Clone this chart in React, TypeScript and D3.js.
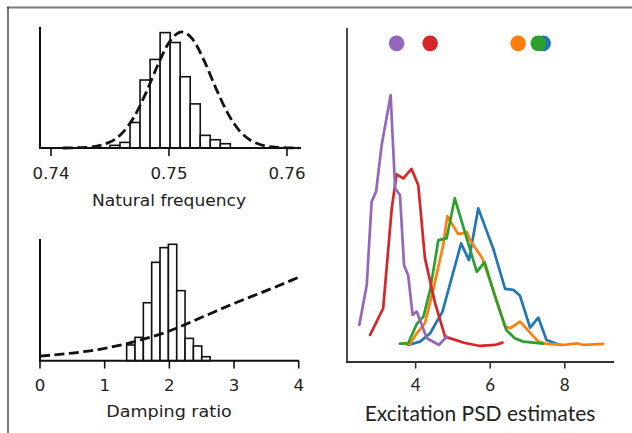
import React from "react";
import * as d3 from "d3";

// ---------- Natural frequency panel ----------
const nfTicks = [0.74, 0.75, 0.76];
const nfTickLabels = ["0.74", "0.75", "0.76"];
const nfBinStart = 0.745;
const nfBinWidth = 0.00085;
const nfCounts = [2.4, 5.1, 23.2, 61.8, 80.5, 104.9, 95.9, 64.8, 40.1, 11.5, 7.5, 3.9];
const nfPriorX = [0.741, 0.743, 0.745, 0.746, 0.747, 0.748, 0.749, 0.75, 0.7511, 0.752, 0.753, 0.754, 0.755, 0.756, 0.757, 0.759, 0.761];
const nfPriorY = [0.0, 0.6, 5.4, 13.2, 27.5, 48.9, 74.1, 95.8, 105.5, 98.9, 79.0, 53.8, 31.2, 15.4, 6.5, 0.7, 0.0];

// ---------- Damping ratio panel ----------
const drTicks = [0, 1, 2, 3, 4];
const drTickLabels = ["0", "1", "2", "3", "4"];
const drBinStart = 1.34;
const drBinWidth = 0.129;
const drCounts = [14.2, 21.1, 52.4, 88.9, 102.2, 105.2, 63.3, 20.2, 13.3, 3.6];
const drPriorX = [0, 0.5, 1, 1.5, 2, 2.5, 3, 3.5, 4];
const drPriorY = [4.2, 6.9, 11.2, 17.8, 26.8, 39.2, 51.8, 63.3, 75.4];

// ---------- Excitation PSD panel ----------
const psdTicks = [4, 6, 8];
const psdBlueX = [3.8, 4.12, 4.39, 4.72, 5.22, 5.43, 5.68, 6.08, 6.4, 6.62, 6.8, 7.07, 7.29, 7.51, 7.87];
const psdBlueY = [0.051, 0.061, 0.086, 0.151, 0.355, 0.305, 0.46, 0.34, 0.219, 0.216, 0.198, 0.103, 0.133, 0.066, 0.051];
const psdOrangeX = [3.67, 3.85, 4.03, 4.25, 4.47, 4.74, 4.85, 5.14, 5.38, 5.46, 5.79, 6.08, 6.4, 6.53, 6.8, 7.29, 7.51, 7.96, 8.32, 8.5, 9.03];
const psdOrangeY = [0.056, 0.054, 0.086, 0.116, 0.216, 0.35, 0.437, 0.383, 0.388, 0.365, 0.31, 0.216, 0.106, 0.101, 0.121, 0.061, 0.054, 0.051, 0.056, 0.051, 0.054];
const psdGreenX = [3.58, 3.8, 4.03, 4.21, 4.39, 4.61, 4.83, 5.05, 5.64, 5.85, 6.13, 6.43, 6.66, 6.89, 7.42];
const psdGreenY = [0.055, 0.056, 0.114, 0.136, 0.216, 0.365, 0.37, 0.49, 0.27, 0.299, 0.196, 0.096, 0.071, 0.061, 0.055];
const psdRedX = [2.78, 3.13, 3.36, 3.49, 3.67, 3.89, 4.07, 4.25, 4.52, 4.79, 5.32, 5.73, 6.13, 6.33];
const psdRedY = [0.081, 0.161, 0.46, 0.562, 0.55, 0.578, 0.53, 0.311, 0.177, 0.076, 0.057, 0.048, 0.051, 0.058];
const psdPurpleX = [2.49, 2.69, 2.82, 2.94, 3.09, 3.33, 3.45, 3.58, 3.69, 3.8, 3.92, 4.03, 4.3, 4.63, 4.83];
const psdPurpleY = [0.111, 0.231, 0.48, 0.51, 0.65, 0.799, 0.52, 0.5, 0.29, 0.26, 0.141, 0.151, 0.071, 0.051, 0.076];
const psdMeans = [7.42, 6.75, 7.29, 4.39, 3.49];
const psdMeanLevel = 0.954;
const psdColors = ["#1f77b4", "#ff7f0e", "#2ca02c", "#d62728", "#9467bd"];

const leftFont = "'DejaVu Sans', sans-serif";
const rightFont = "Lato, 'Open Sans', sans-serif";

function Label(props: { x: number; y: number; text: string; size: number; sx?: number; font: string }) {
  const { x, y, text, size, sx = 1, font } = props;
  return (
    <text
      transform={`translate(${x},${y}) scale(${sx},1)`}
      textAnchor="middle"
      fontFamily={font}
      fontSize={size}
      fill="#222"
    >
      {text}
    </text>
  );
}

function zip(xs: number[], ys: number[]): [number, number][] {
  return xs.map((x, i) => [x, ys[i]]);
}

export default function App() {
  const xNF = d3.scaleLinear().domain([0.73907, 0.76119]).range([40, 301]);
  const yNF = d3.scaleLinear().domain([0, 110]).range([148, 27]);
  const xDR = d3.scaleLinear().domain([0, 4]).range([40, 298.7]);
  const yDR = d3.scaleLinear().domain([0, 110]).range([360.7, 239]);
  const xPSD = d3.scaleLinear().domain([2.16, 9.32]).range([347, 614]);
  const yPSD = d3.scaleLinear().domain([0, 1]).range([362, 28]);

  const nfLine = d3
    .line<[number, number]>()
    .x((d) => xNF(d[0]))
    .y((d) => yNF(d[1]))
    .curve(d3.curveMonotoneX);
  const drLine = d3
    .line<[number, number]>()
    .x((d) => xDR(d[0]))
    .y((d) => yDR(d[1]))
    .curve(d3.curveMonotoneX);
  const psdLine = d3
    .line<[number, number]>()
    .x((d) => xPSD(d[0]))
    .y((d) => yPSD(d[1]));

  const psdSeries = [
    zip(psdBlueX, psdBlueY),
    zip(psdOrangeX, psdOrangeY),
    zip(psdGreenX, psdGreenY),
    zip(psdRedX, psdRedY),
    zip(psdPurpleX, psdPurpleY),
  ];

  const sxLeft = 1.08;
  const leftSize = 15.4;

  return (
    <svg
      width={632}
      height={433}
      style={{ position: "absolute", left: 0, top: 0, background: "#fff" }}
    >
      <rect x={0} y={0} width={632} height={433} fill="#fff" />
      {/* frame */}
      <line x1={7} y1={7.5} x2={632} y2={7.5} stroke="#7a7a7a" strokeWidth={2} />
      <line x1={8} y1={7} x2={8} y2={433} stroke="#222" strokeWidth={1.2} />

      {/* ---- Natural frequency ---- */}
      <g>
        {nfCounts.map((c, i) => {
          const x0 = xNF(nfBinStart + i * nfBinWidth);
          const x1 = xNF(nfBinStart + (i + 1) * nfBinWidth);
          return (
            <rect
              key={i}
              x={x0}
              y={yNF(c)}
              width={x1 - x0}
              height={yNF(0) - yNF(c)}
              fill="#fff"
              stroke="#111"
              strokeWidth={1.6}
            />
          );
        })}
        <path
          d={nfLine(zip(nfPriorX, nfPriorY)) || ""}
          fill="none"
          stroke="#111"
          strokeWidth={2.8}
          strokeDasharray="10,4.5"
        />
        <line x1={40} y1={26.7} x2={40} y2={148} stroke="#111" strokeWidth={2} />
        <line x1={39} y1={148} x2={301} y2={148} stroke="#111" strokeWidth={2} />
        {nfTicks.map((t, i) => (
          <g key={i}>
            <line x1={xNF(t)} y1={148} x2={xNF(t)} y2={156} stroke="#111" strokeWidth={1.6} />
            <Label x={xNF(t)} y={179} text={nfTickLabels[i]} size={leftSize} sx={sxLeft} font={leftFont} />
          </g>
        ))}
        <Label x={169} y={205.5} text="Natural frequency" size={leftSize} sx={1.11} font={leftFont} />
      </g>

      {/* ---- Damping ratio ---- */}
      <g>
        {drCounts.map((c, i) => {
          const x0 = xDR(drBinStart + i * drBinWidth);
          const x1 = xDR(drBinStart + (i + 1) * drBinWidth);
          return (
            <rect
              key={i}
              x={x0}
              y={yDR(c)}
              width={x1 - x0}
              height={yDR(0) - yDR(c)}
              fill="#fff"
              stroke="#111"
              strokeWidth={1.6}
            />
          );
        })}
        <path
          d={drLine(zip(drPriorX, drPriorY)) || ""}
          fill="none"
          stroke="#111"
          strokeWidth={2.8}
          strokeDasharray="10,4.5"
        />
        <line x1={40} y1={239} x2={40} y2={360.7} stroke="#111" strokeWidth={2} />
        <line x1={39} y1={360.7} x2={299} y2={360.7} stroke="#111" strokeWidth={2} />
        {drTicks.map((t, i) => (
          <g key={i}>
            <line x1={xDR(t)} y1={360.7} x2={xDR(t)} y2={368.5} stroke="#111" strokeWidth={1.6} />
            <Label x={xDR(t)} y={390.7} text={drTickLabels[i]} size={leftSize} sx={sxLeft} font={leftFont} />
          </g>
        ))}
        <Label x={169} y={417.3} text="Damping ratio" size={leftSize} sx={1.14} font={leftFont} />
      </g>

      {/* ---- Excitation PSD ---- */}
      <g>
        {psdSeries.map((s, i) => (
          <path
            key={i}
            d={psdLine(s) || ""}
            fill="none"
            stroke={psdColors[i]}
            strokeWidth={2.7}
            strokeLinejoin="round"
            strokeLinecap="round"
          />
        ))}
        {psdMeans.map((m, i) => (
          <circle key={i} cx={xPSD(m)} cy={yPSD(psdMeanLevel)} r={7.8} fill={psdColors[i]} />
        ))}
        <line x1={347} y1={28} x2={347} y2={362} stroke="#333" strokeWidth={1.8} />
        <line x1={346} y1={362} x2={614} y2={362} stroke="#333" strokeWidth={1.8} />
        {psdTicks.map((t, i) => (
          <g key={i}>
            <line x1={xPSD(t)} y1={362} x2={xPSD(t)} y2={368.5} stroke="#333" strokeWidth={1.6} />
            <Label x={xPSD(t)} y={390.7} text={String(t)} size={17} font={rightFont} />
          </g>
        ))}
        <Label x={480} y={420.7} text="Excitation PSD estimates" size={21} font={rightFont} />
      </g>
    </svg>
  );
}
